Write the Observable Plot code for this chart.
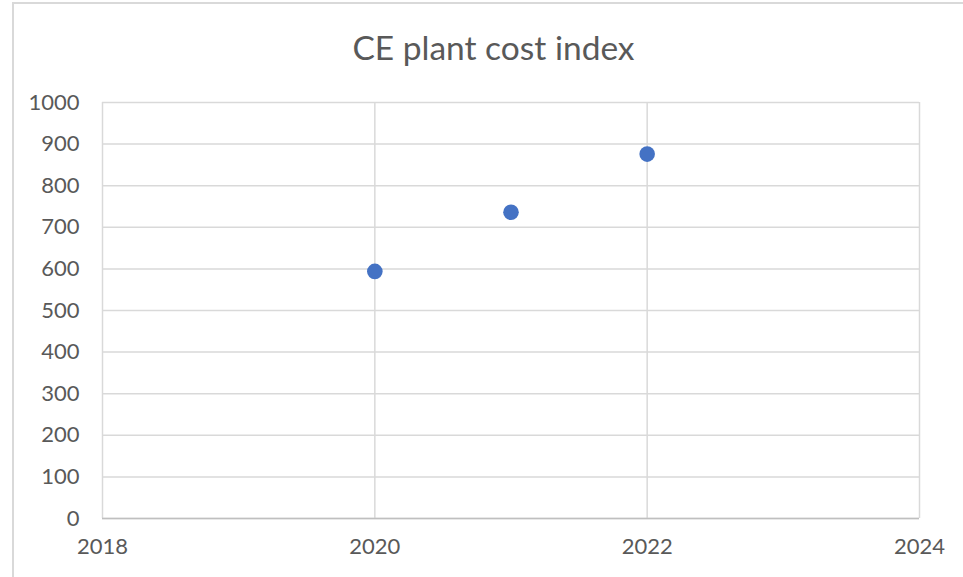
<!DOCTYPE html>
<html>
<head>
<meta charset="utf-8">
<script src="https://cdn.jsdelivr.net/npm/d3@7"></script>
<script src="https://cdn.jsdelivr.net/npm/@observablehq/plot@0.6"></script>
<style>
  html, body { margin: 0; padding: 0; background: #fff; }
  #wrap { position: relative; width: 963px; height: 577px; overflow: hidden; }
  #border { position: absolute; left: 12px; top: 2px; width: 1000px; height: 600px; border: 2px solid #d9d9d9; box-sizing: border-box; }
  #chart { position: absolute; left: 0; top: 0; }
</style>
</head>
<body>
<div id="wrap"><div id="border"></div><div id="chart"></div></div>
<script>
const title = "CE plant cost index";
const years = [2020, 2021, 2022];
const values = [594, 736, 876];
const xTicks = [2018, 2020, 2022, 2024];
const yTicks = [0, 100, 200, 300, 400, 500, 600, 700, 800, 900, 1000];

const data = years.map((y, i) => ({year: y, value: values[i]}));
const font = "Lato, 'Open Sans', sans-serif";

const chart = Plot.plot({
  width: 963,
  height: 577,
  marginLeft: 102,
  marginRight: 44,
  marginTop: 102,
  marginBottom: 59,
  style: {fontFamily: font, fontSize: "22px", color: "#595959", background: "transparent", overflow: "visible"},
  x: {domain: [2018, 2024], ticks: xTicks, tickFormat: d => String(d), label: null},
  y: {domain: [0, 1000], ticks: yTicks, tickFormat: d => String(d), label: null},
  marks: [
    Plot.gridY(yTicks, {stroke: "#d9d9d9", strokeOpacity: 1, strokeWidth: 1.5}),
    Plot.gridX(xTicks, {stroke: "#d9d9d9", strokeOpacity: 1, strokeWidth: 1.5}),
    Plot.ruleY([0], {stroke: "#bfbfbf", strokeWidth: 1.5}),
    Plot.axisX({ticks: xTicks, tickFormat: d => String(d), tickSize: 0, tickPadding: 20, fill: "#595959"}),
    Plot.axisY({ticks: yTicks, tickFormat: d => String(d), tickSize: 0, tickPadding: 23, fill: "#595959"}),
    Plot.dot(data, {x: "year", y: "value", r: 7.8, fill: "#4472c4", stroke: "none"})
  ]
});

d3.select(chart).append("text")
  .attr("x", 493.5)
  .attr("y", 60)
  .attr("text-anchor", "middle")
  .attr("fill", "#595959")
  .style("font-family", font)
  .style("font-size", "33.5px")
  .text(title);

document.getElementById("chart").appendChild(chart);
</script>
</body>
</html>
